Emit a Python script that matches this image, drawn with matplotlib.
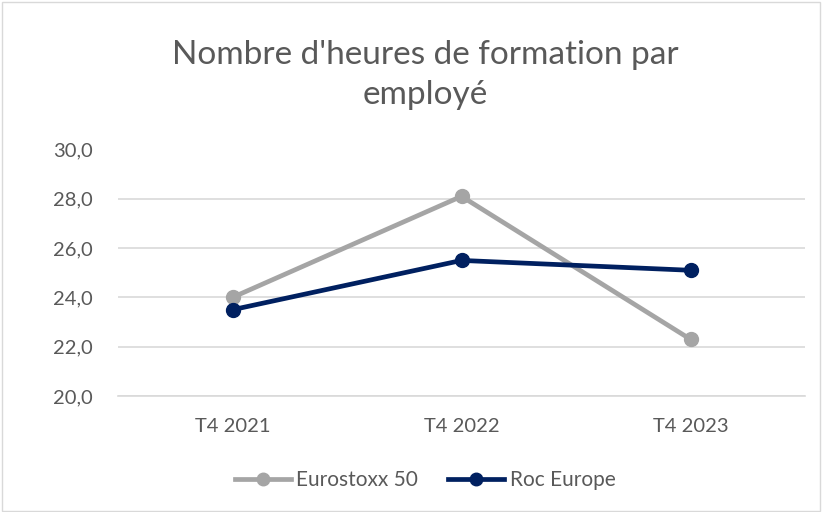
import matplotlib
matplotlib.use('Agg')
import matplotlib.pyplot as plt
from matplotlib.patches import Rectangle

categories = ['T4 2021', 'T4 2022', 'T4 2023']
eurostoxx = [24.0, 28.1, 22.3]
roc_europe = [23.5, 25.5, 25.1]
yticks = [20, 22, 24, 26, 28, 30]

plt.rcParams['font.family'] = ['Lato', 'DejaVu Sans']
txt = '#595959'

fig = plt.figure(figsize=(8.23, 5.12), dpi=100)
ax = fig.add_axes([118/823, 1-396/512, 687/823, (396-149.5)/512])

x = range(len(categories))
ax.plot(x, eurostoxx, color='#A5A5A5', lw=3.4, marker='o', ms=10, label='Eurostoxx 50')
ax.plot(x, roc_europe, color='#002060', lw=3.4, marker='o', ms=10, label='Roc Europe')

ax.set_xlim(-0.5, 2.5)
ax.set_ylim(20, 30)
ax.set_yticks(yticks)
ax.set_yticklabels([f'{v:.1f}'.replace('.', ',') for v in yticks])
ax.set_xticks(list(x))
ax.set_xticklabels(categories)
ax.tick_params(length=0, labelsize=14.5, colors=txt)
ax.tick_params(axis='x', pad=16)
ax.tick_params(axis='y', pad=47)
ax.grid(axis='y', color='#D9D9D9', lw=1.2)
ax.set_axisbelow(True)
for s in ['top', 'right', 'left']:
    ax.spines[s].set_visible(False)
ax.spines['bottom'].set_color('#D9D9D9')
ax.spines['bottom'].set_linewidth(1.2)
for lab in ax.get_yticklabels():
    lab.set_horizontalalignment('left')

fig.text(0.517, 1-75/512, "Nombre d'heures de formation par\nemployé", ha='center', va='center',
         fontsize=24, color=txt, linespacing=1.4)

fig.legend(loc='center', bbox_to_anchor=(425/823, 1-480/512), ncol=2, frameon=False,
           fontsize=15, labelcolor=txt, handlelength=2.7, handletextpad=0.25, columnspacing=1.45,
           markerscale=0.9)

fig.patches.append(Rectangle((0.002, 0.002), 0.994, 0.994, transform=fig.transFigure,
                             fill=False, edgecolor='#D9D9D9', lw=1))

fig.savefig('out.png', dpi=100)
